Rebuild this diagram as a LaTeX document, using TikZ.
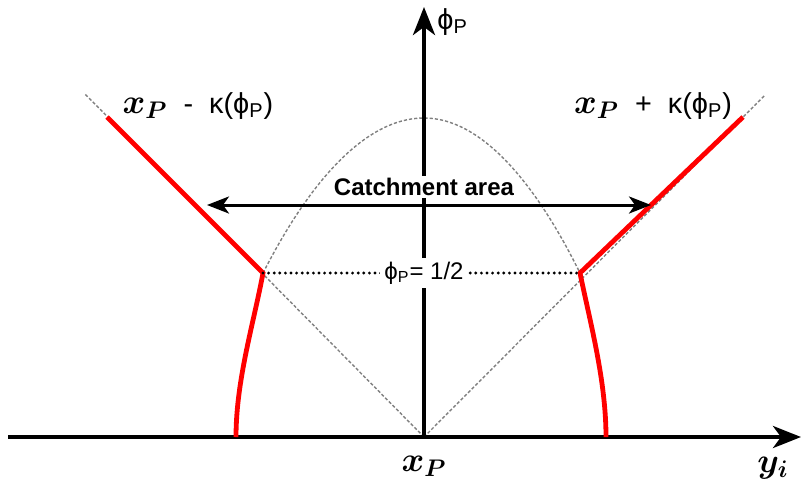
\documentclass[tikz,border=0pt]{standalone}
\usepackage{amsmath,amssymb}
\usepackage{fontspec}
\setmainfont{Liberation Sans}
\usetikzlibrary{arrows.meta,positioning,calc}
\newcommand{\phiP}{ϕ\textsubscript{P}}
\newcommand{\xP}{$\boldsymbol{x_P}$}

\begin{document}
\begin{tikzpicture}[x=0.5pt, y=-0.5pt,
    axis/.style={line width=2pt, -{Stealth[length=14pt, width=11pt, inset=4pt]}},
    edge/.style={red, line width=2.4pt},
    guide/.style={gray, line width=0.7pt, dash pattern=on 1.6pt off 1pt},
    level/.style={line width=1.6pt, line cap=round, dash pattern=on 0pt off 2.8pt},
    span/.style={line width=1.5pt, {Stealth[length=11pt, width=8.5pt, inset=3pt]}-{Stealth[length=11pt, width=8.5pt, inset=3pt]}},
    lbl/.style={font=\Large, inner sep=1pt},
    mlbl/.style={font=\LARGE, inner sep=1pt}
]
\useasboundingbox (0,0) rectangle (802,489);

% Punkte
\coordinate (o)  at (424,437);
\coordinate (xl) at (8,437);
\coordinate (xr) at (801,437);
\coordinate (yt) at (424,7);
\coordinate (jl) at (263,273);
\coordinate (jr) at (580,273);
\coordinate (tl) at (107,117);
\coordinate (tr) at (743,117);
\coordinate (el) at (85,94);
\coordinate (er) at (765,95);
\coordinate (bl) at (236,437);
\coordinate (br) at (606,437);
\coordinate (top) at (424,118);
\coordinate (cl) at (207,205);
\coordinate (cr) at (651,205);

% Hilfslinien
\draw[guide] (o) -- (el);
\draw[guide] (o) -- (er);
\draw[guide] (jl) parabola bend (top) (jr);

% Achsen
\draw[axis] (xl) -- (xr);
\draw[axis] (o) -- (yt);

% Rand
\draw[edge] (tl) -- (jl) .. controls (254,322) and (236,380) .. (bl);
\draw[edge] (tr) -- (jr) .. controls (590,322) and (606,380) .. (br);

% Niveau 1/2
\draw[level] (jl) -- (jr);
\node[fill=white, font=\large, inner sep=2pt] (half) at (424,273) {\phiP= 1/2};

% Einzugsgebiet
\draw[span] (cl) -- (cr);
\node[fill=white, font=\large\bfseries, inner sep=1pt] (catch) at (424,187) {Catchment area};

% Beschriftungen
\node[lbl, anchor=west] (phi) at (435,22) {\phiP};
\node[lbl] (lab-l) at (198,106) {{\LARGE\xP}\ \ -\ \ κ(\phiP)};
\node[lbl] (lab-r) at (653,106) {{\LARGE\xP}\ \ +\ \ κ(\phiP)};
\node[mlbl] (xp) at (424,466) {\xP};
\node[mlbl] (yi) at (773,468) {$\boldsymbol{y_i}$};
\end{tikzpicture}
\end{document}
